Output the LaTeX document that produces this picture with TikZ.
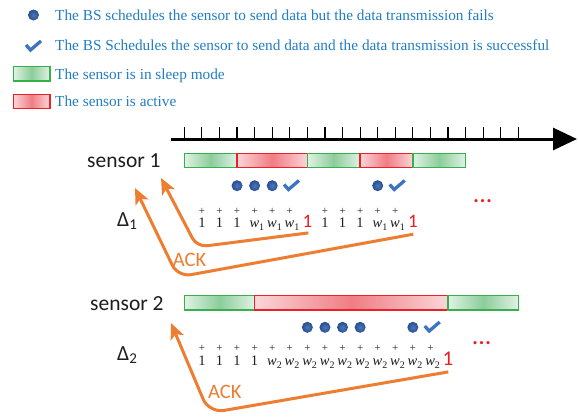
\documentclass[tikz,border=0pt]{standalone}
\usepackage{fontspec}
\newfontfamily\calib{Carlito}
\newfontfamily\tnr{Liberation Serif}
\usetikzlibrary{arrows.meta}
\definecolor{legblue}{RGB}{35,125,195}
\definecolor{dotblue}{RGB}{36,78,148}
\definecolor{dotblueL}{RGB}{80,118,182}
\definecolor{chkblue}{RGB}{60,115,195}
\definecolor{gB}{RGB}{55,176,75}
\definecolor{gL}{RGB}{224,242,228}
\definecolor{gM}{RGB}{140,205,155}
\definecolor{rB}{RGB}{236,32,40}
\definecolor{rL}{RGB}{250,214,216}
\definecolor{rM}{RGB}{240,125,132}
\definecolor{orng}{RGB}{237,125,49}
\definecolor{darkt}{RGB}{30,30,30}
\definecolor{redt}{RGB}{236,30,36}
\newcommand{\wsub}[1]{{\itshape w}\raisebox{-0.25em}{\fontsize{10}{10}\selectfont #1}}
\tikzset{
  leg/.style={font=\tnr\fontsize{15.3}{16}\selectfont, text=legblue, anchor=base west, inner sep=0},
  lbl/.style={font=\calib\fontsize{21.5}{22}\selectfont, text=darkt, anchor=base west, inner sep=0},
  sleepbar/.style={draw=gB, line width=1.4pt, left color=gL, right color=gL, middle color=gM},
  activebar/.style={draw=rB, line width=1.4pt, left color=rL, right color=rL, middle color=rM},
  bdot/.style={circle, inner sep=0, minimum size=11pt, shading=radial, inner color=dotblueL, outer color=dotblue},
  ackarr/.style={draw=orng, line width=3pt, rounded corners=13pt, -{Stealth[length=16pt,width=14pt,inset=4pt]}},
  acklbl/.style={font=\calib\fontsize{20.5}{21}\selectfont, text=orng, anchor=base west, inner sep=0},
  num/.style={font=\tnr\fontsize{14.5}{15}\selectfont, text=darkt, inner sep=0},
  pl/.style={font=\tnr\fontsize{11}{11}\selectfont, text=darkt, inner sep=0},
  rone/.style={font=\calib\fontsize{19}{19}\selectfont, text=redt, anchor=base, inner sep=0},
  dots/.style={font=\calib\fontsize{26}{26}\selectfont, text=redt, anchor=base, inner sep=0},
  chk/.pic={\draw[chkblue, line width=3.3pt, line join=miter, line cap=butt] (-7,-1) -- (-2.5,4) -- (8,-5);}
}
\begin{document}
\begin{tikzpicture}[x=1pt,y=-1pt]
\useasboundingbox (0,0) rectangle (578,416);
\fill[white] (0,0) rectangle (578,416);
% legend
\node[bdot] (ld) at (33.5,15) {};
\pic at (33,46) {chk};
\path[sleepbar] (13.3,66.7) rectangle (49.8,81);
\path[activebar] (13.3,94.3) rectangle (49.8,108.3);
\node[leg] (l1) at (55,20) {The BS schedules the sensor to send data but the data transmission fails};
\node[leg] (l2) at (55,50) {The BS Schedules the sensor to send data and the data transmission is successful};
\node[leg] (l3) at (55,79) {The sensor is in sleep mode};
\node[leg] (l4) at (55,106.7) {The sensor is active};
% time axis
\coordinate (axs) at (171,139);
\coordinate (axe) at (577,139);
\draw[line width=3pt, -{Triangle[length=24pt,width=22pt]}] (axs) -- (axe);
\foreach \k in {0,...,19} \draw[line width=1.2pt] ({184.3+17.58*\k},127.3) -- ++(0,11.8);
% labels
\node[lbl] (s1) at (87,167.3) {sensor 1};
\node[lbl] (s2) at (90,310.7) {sensor 2};
\node[lbl] (D1) at (117,226) {Δ\raisebox{-0.32ex}{\fontsize{15}{15}\selectfont 1}};
\node[lbl] (D2) at (117,360) {Δ\raisebox{-0.32ex}{\fontsize{15}{15}\selectfont 2}};
% sensor 1 bars
\path[sleepbar]  ({184.3+17.58*0},153.3) rectangle ({184.3+17.58*3},167.3);
\path[activebar] ({184.3+17.58*3},153.3) rectangle ({184.3+17.58*7},167.3);
\path[sleepbar]  ({184.3+17.58*7},153.3) rectangle ({184.3+17.58*10},167.3);
\path[activebar] ({184.3+17.58*10},153.3) rectangle ({184.3+17.58*13},167.3);
\path[sleepbar]  ({184.3+17.58*13},153.3) rectangle ({184.3+17.58*16},167.3);
% sensor 2 bars
\path[sleepbar]  ({184.3+17.58*0},295.7) rectangle ({184.3+17.58*4},310);
\path[activebar] ({184.3+17.58*4},295.7) rectangle ({184.3+17.58*15},310);
\path[sleepbar]  ({184.3+17.58*15},295.7) rectangle ({184.3+17.58*19},310);
% dots sensor 1
\foreach \k in {3,4,5,11} \node[bdot] (da\k) at ({184.3+17.58*\k},185.7) {};
\pic at (291,185.5) {chk};
\pic at (396.7,185.5) {chk};
% dots sensor 2
\foreach \k in {7,8,9,10,13} \node[bdot] (db\k) at ({184.3+17.58*\k},327.3) {};
\pic at (431.7,327) {chk};
% ellipses
\node[dots] (e1) at (482.7,202.5) {...};
\node[dots] (e2) at (481.7,344.5) {...};
% number rows sensor 1
\foreach \k in {1,2,3,8,9,10} {
  \node[num, anchor=base] (na\k) at ({184.3+17.58*\k},227) {1};
}
\foreach \k in {4,5,6,11,12} {
  \node[num, anchor=base west] (na\k) at ({184.3+17.58*\k-5.3},227) {\wsub{1}};
}
\foreach \k in {1,2,3,4,5,6,8,9,10,11,12} {
  \node[pl] (pa\k) at ({184.3+17.58*\k},211.5) {+};
}
\node[rone] (ra) at ({184.3+17.58*7},227) {1};
\node[rone] (rb) at ({184.3+17.58*13},227) {1};
% number rows sensor 2
\foreach \k in {1,2,3,4} {
  \node[num, anchor=base] (nb\k) at ({184.3+17.58*\k},365) {1};
}
\foreach \k in {5,...,14} {
  \node[num, anchor=base west] (nb\k) at ({184.3+17.58*\k-5.3},365) {\wsub{2}};
}
\foreach \k in {1,...,14} {
  \node[pl] (pb\k) at ({184.3+17.58*\k},348.3) {+};
}
\node[rone, font=\calib\fontsize{21}{21}\selectfont] (rc) at ({184.3+17.58*15},365) {1};
% ACK arrows
\coordinate (ta) at (161,178);
\coordinate (tb) at (135,188);
\coordinate (tc) at (171,323);
\coordinate (ca) at (197,247);
\coordinate (cb) at (178,277);
\coordinate (cc) at (209,413);
\draw[ackarr, rounded corners=10pt] ([shift={(1,5.7)}]ra.south) -- (ca) -- (ta);
\draw[ackarr] ([shift={(0.5,7)}]rb.south) -- (cb) -- (tb);
\draw[ackarr, rounded corners=15pt] ([shift={(0.3,6.7)}]rc.south) -- (cc) -- (tc);
\node[acklbl] (ack1) at (172.7,266) {ACK};
\node[acklbl] (ack2) at (208,398.3) {ACK};
\end{tikzpicture}
\end{document}
